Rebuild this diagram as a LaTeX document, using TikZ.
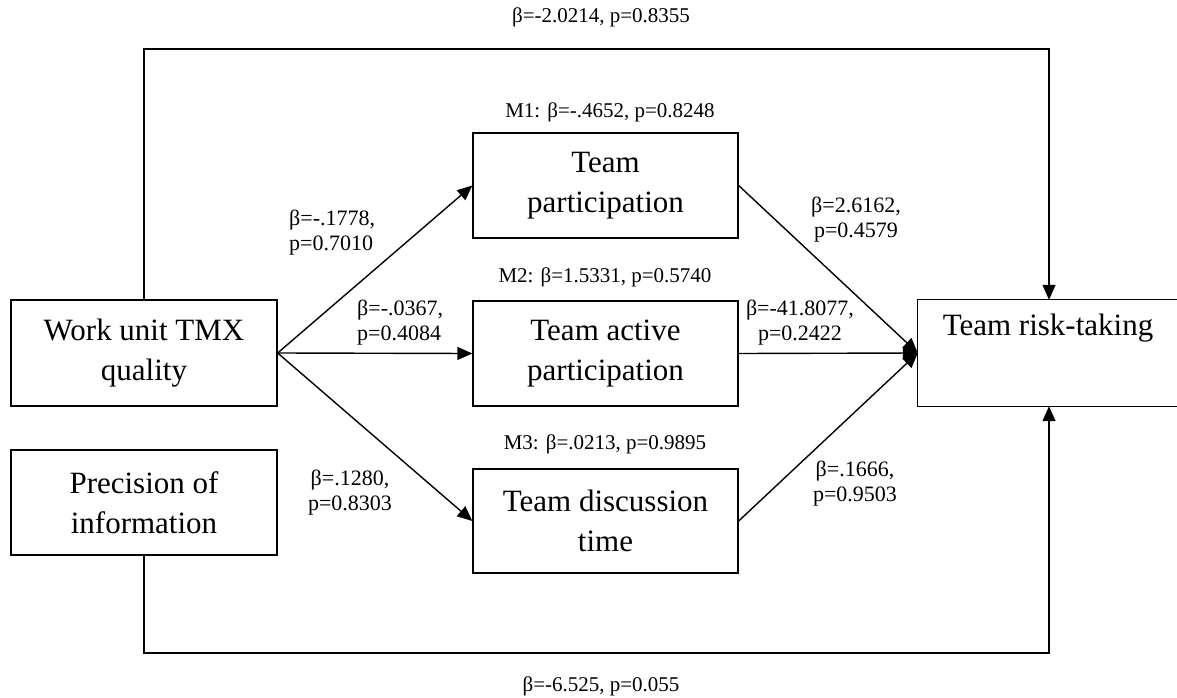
\documentclass[tikz,border=0pt]{standalone}
\usepackage{fontspec}
\setmainfont{Liberation Serif}
\usetikzlibrary{arrows.meta}
\tikzset{
  box/.style={draw, line width=1.3pt, rectangle, inner sep=0pt, align=center,
    font=\fontsize{31}{40}\selectfont},
  lab/.style={inner sep=0pt, font=\fontsize{21}{25}\selectfont},
  lab2/.style={inner sep=0pt, font=\fontsize{22}{25}\selectfont},
  conn/.style={line width=1.4pt, -{Triangle[length=15pt,width=13pt]}},
}
\begin{document}
\begin{tikzpicture}[x=1pt,y=-1pt]
\useasboundingbox (0,0) rectangle (1177,698);
\node[box, minimum width=266pt, minimum height=106pt] (wu) at (144,353) {Work unit TMX\\quality};
\node[box, minimum width=266pt, minimum height=105pt] (pi) at (144,502.5) {Precision of\\information};
\node[box, minimum width=265pt, minimum height=105pt] (tp) at (605.5,185.5) {Team\\participation};
\node[box, minimum width=265pt, minimum height=105pt] (ta) at (605.5,353.5) {Team active\\participation};
\node[box, minimum width=265pt, minimum height=104pt] (td) at (605.5,521) {Team discussion\\time};
\node[rectangle, inner sep=0pt, minimum width=262pt, minimum height=106pt] (tr) at (1049,353) {};
\draw[line width=1.3pt] (tr.north east) -- (tr.north west) -- (tr.south west) -- (tr.south east);
\node[font=\fontsize{31}{40}\selectfont, inner sep=0pt] (trt) at (1048,328) {Team risk-taking};
\coordinate (topy) at (0,49);
\coordinate (boty) at (0,653);
\draw[conn] (wu.north) |- (topy -| tr.north) -- (tr.north);
\draw[conn] (pi.south) |- (boty -| tr.south) -- (tr.south);
\draw[conn] (wu.east) -- (tp.west);
\draw[conn] (wu.east) -- (ta.west);
\draw[conn] (wu.east) -- (td.west);
\draw[conn] (tp.east) -- (tr.west);
\draw[conn] (ta.east) -- (tr.west);
\draw[conn] (td.east) -- (tr.west);
\node[lab] (ltop) at (601,17) {β=-2.0214, p=0.8355};
\node[lab] (lbot) at (601,686) {β=-6.525, p=0.055};
\node[lab] (m1) at (610,112) {M1: β=-.4652, p=0.8248};
\node[lab] (m2) at (605,277) {M2: β=1.5331, p=0.5740};
\node[lab] (m3) at (605,444) {M3: β=.0213, p=0.9895};
\node[lab2, align=left, anchor=west] (l1) at (289,232.5) {β=-.1778,\\p=0.7010};
\node[lab2, align=left, anchor=west] (l2) at (357,323) {β=-.0367,\\p=0.4084};
\node[lab2, align=center] (l3) at (350,493) {β=.1280,\\p=0.8303};
\node[lab2, align=center] (r1) at (856,220) {β=2.6162,\\p=0.4579};
\node[lab2, align=center] (r2) at (800,323) {β=-41.8077,\\p=0.2422};
\node[lab2, align=center] (r3) at (855,484) {β=.1666,\\p=0.9503};
\end{tikzpicture}
\end{document}
